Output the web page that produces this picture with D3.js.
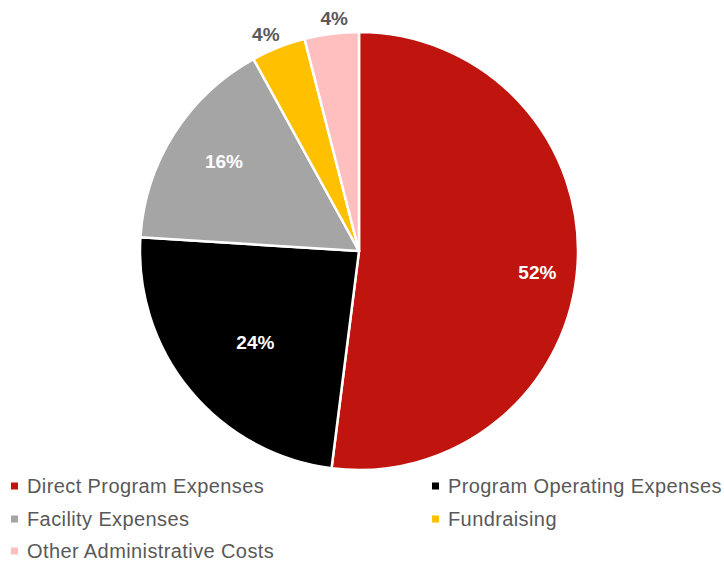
<!DOCTYPE html>
<html>
<head>
<meta charset="utf-8">
<script src="https://cdn.jsdelivr.net/npm/d3@7"></script>
<style>
  body { margin: 0; background: #fff; }
  svg { display: block; }
</style>
</head>
<body>
<svg id="chart" width="724" height="561"></svg>
<script>
// chart data
var categories = ["Direct Program Expenses", "Program Operating Expenses", "Facility Expenses", "Fundraising", "Other Administrative Costs"];
var values = [52, 24, 16, 4, 4];
var colors = ["#C0140F", "#000000", "#A5A5A5", "#FFC000", "#FFBFBF"];

var svg = d3.select("#chart"),
    cx = 359, cy = 251, radius = 219;

var g = svg.append("g").attr("transform", "translate(" + cx + "," + cy + ")");

var pie = d3.pie().sort(null).value(function (d) { return d; });
var arcs = pie(values);

var path = d3.arc().innerRadius(0).outerRadius(radius);

g.selectAll("path")
    .data(arcs)
    .enter().append("path")
    .attr("d", path)
    .attr("fill", function (d, i) { return colors[i]; })
    .attr("stroke", "#fff")
    .attr("stroke-width", 2.5)
    .attr("stroke-linejoin", "round");

// label distance from centre as a fraction of the radius, plus a small angle nudge (excel best fit look)
var labelPos = [0.82, 0.63, 0.74, 1.075, 1.07];
var labelNudge = [0.055, -0.03, 0.02, -0.03, 0.02];

g.selectAll("text.lbl")
    .data(arcs)
    .enter().append("text")
    .attr("class", "lbl")
    .attr("transform", function (d, i) {
        var a = (d.startAngle + d.endAngle) / 2 + labelNudge[i];
        var r = radius * labelPos[i];
        return "translate(" + (Math.sin(a) * r) + "," + (-Math.cos(a) * r) + ")";
    })
    .attr("text-anchor", "middle")
    .attr("dy", "0.35em")
    .style("font-family", "'Liberation Sans', Arial, sans-serif")
    .style("font-weight", "bold")
    .style("font-size", "19px")
    .attr("fill", function (d, i) { return values[i] > 5 ? "#fff" : "#595959"; })
    .text(function (d) { return d.data + "%"; });

// legend
var legend = svg.append("g");
var colX = [11, 432], rowY = [486, 519, 551];

var item = legend.selectAll("g")
    .data(categories)
    .enter().append("g")
    .attr("transform", function (d, i) {
        return "translate(" + colX[i % 2] + "," + rowY[Math.floor(i / 2)] + ")";
    });

item.append("rect")
    .attr("x", 0).attr("y", -3.5)
    .attr("width", 7).attr("height", 7)
    .attr("fill", function (d, i) { return colors[i]; });

item.append("text")
    .attr("x", 16)
    .attr("dy", "0.35em")
    .style("font-family", "'Liberation Sans', Arial, sans-serif")
    .style("font-size", "20px")
    .style("letter-spacing", "0.4px")
    .attr("fill", "#595959")
    .text(function (d) { return d; });
</script>
</body>
</html>
